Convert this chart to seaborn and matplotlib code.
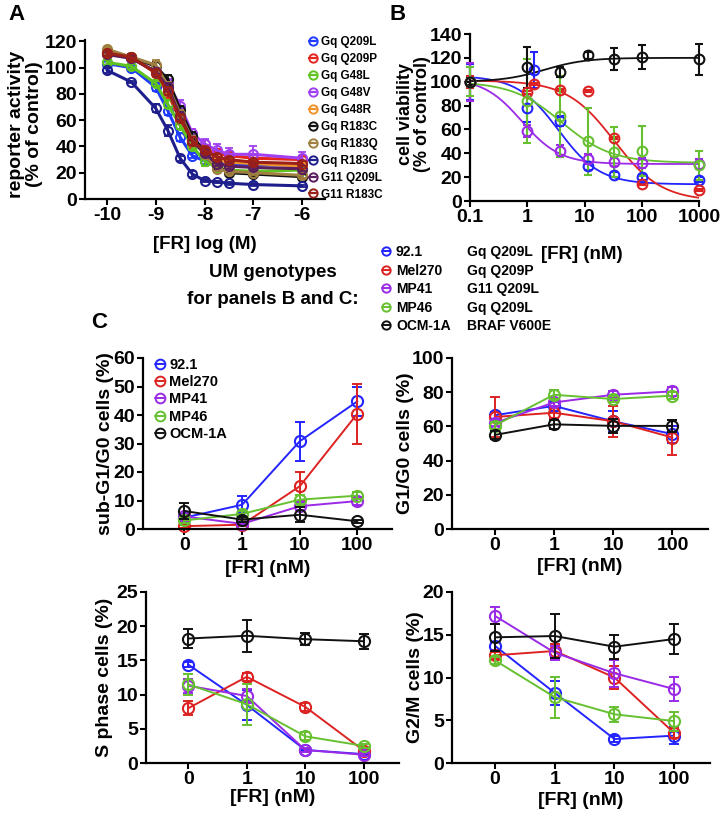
import numpy as np
import pandas as pd
import seaborn as sns
import matplotlib.pyplot as plt
from matplotlib.lines import Line2D
from matplotlib.ticker import NullLocator

# ---------------- panel A: reporter activity ----------------
a_logconc = [-10, -9.5, -9, -8.75, -8.5, -8.25, -8, -7.75, -7.5, -7, -6]
a_mutants = ["Gq Q209L", "Gq Q209P", "Gq G48L", "Gq G48V", "Gq G48R",
             "Gq R183C", "Gq R183Q", "Gq R183G", "G11 Q209L", "G11 R183C"]
a_colors = ["#1f3cff", "#e5241e", "#5ec21f", "#a040f0", "#f0922a",
            "#111111", "#a08040", "#1e1e8c", "#5a1d5e", "#9a2018"]
a_values = [
    [103, 100, 85, 67, 47, 33, 29, 27, 26, 26, 26],
    [110, 108, 96, 80, 60, 42, 38, 35, 33, 31, 30],
    [104, 101, 88, 72, 56, 40, 29, 24, 22, 21, 22],
    [112, 107, 97, 88, 71, 50, 42, 37, 34, 34, 31],
    [113, 108, 96, 82, 63, 45, 36, 30, 28, 27, 25],
    [111, 108, 101, 91, 68, 48, 36, 25, 20, 19, 17],
    [114, 108, 102, 86, 65, 45, 34, 23, 21, 20, 18],
    [98, 89, 69, 52, 31, 19, 14, 13, 12, 11, 10],
    [110, 107, 97, 85, 63, 44, 35, 27, 25, 24, 23],
    [111, 108, 96, 82, 62, 44, 37, 32, 30, 28, 27],
]
a_sd = [
    [2, 2, 3, 3, 3, 2, 2, 2, 2, 2, 2],
    [2, 2, 3, 3, 3, 3, 3, 3, 3, 3, 3],
    [2, 2, 2, 3, 3, 3, 4, 3, 2, 2, 2],
    [2, 2, 3, 3, 4, 3, 4, 5, 5, 6, 5],
    [2, 2, 2, 2, 3, 3, 3, 2, 2, 2, 2],
    [2, 2, 3, 3, 3, 3, 2, 2, 2, 2, 2],
    [2, 2, 4, 3, 3, 3, 2, 2, 2, 2, 2],
    [2, 1, 3, 4, 2, 2, 1, 1, 1, 1, 1],
    [2, 2, 2, 3, 3, 3, 2, 2, 2, 2, 2],
    [2, 2, 2, 3, 3, 3, 2, 2, 2, 2, 2],
]

# ---------------- panel B: cell viability ----------------
b_conc = [0.1, 1, 1.3, 3.7, 11.5, 33, 100, 1000]
b_lines = ["92.1", "Mel270", "MP41", "MP46", "OCM-1A"]
b_genotypes = ["Gq Q209L", "Gq Q209P", "G11 Q209L", "Gq Q209L", "BRAF V600E"]
um_colors = ["#2424ff", "#dd2222", "#9a2ae6", "#66c030", "#111111"]
b_values = [
    [100, 78, 110, 67, 29, 22, 20, 18],
    [100, 91, 98, 93, 92, 53, 14, 9],
    [100, 59, np.nan, 42, 35, 33, 32, 31],
    [100, 84, np.nan, 71, 50, 41, 42, 30],
    [100, 112, np.nan, 108, 122, 119, 121, 119],
]
b_sd = [
    [15, 12, 15, 4, 3, 2, 2, 2],
    [5, 1, 1, 1, 1, 1, 1, 1],
    [16, 5, np.nan, 5, 4, 4, 4, 4],
    [12, 35, np.nan, 34, 28, 21, 21, 12],
    [3, 17, np.nan, 4, 3, 9, 10, 13],
]
# four-parameter logistic fits shown as curves
b_fit_top = [105, 101, 103, 100, 100]
b_fit_bottom = [14, 0, 31, 32, 120]
b_fit_ic50 = [3.5, 33, 0.8, 4, 2]
b_fit_hill = [1.2, 1.05, 1.3, 1.0, 1.2]

# ---------------- panel C: cell cycle ----------------
c_doses = ["0", "1", "10", "100"]
subg1_mean = [[4.0, 8.5, 30.8, 44.8], [1.0, 1.5, 15.0, 40.5], [4.4, 1.8, 8.0, 9.8],
              [3.0, 5.3, 10.3, 11.7], [6.3, 3.3, 5.0, 2.7]]
subg1_sd = [[1.0, 3.0, 6.8, 5.0], [0.5, 0.5, 5.0, 10.5], [1.0, 0.5, 1.5, 1.5],
            [0.8, 1.0, 1.5, 1.2], [2.7, 1.0, 2.7, 0.5]]
g1_mean = [[66.5, 72.0, 63.0, 55.5], [65.5, 68.0, 63.0, 53.5], [62.0, 74.0, 78.5, 80.5],
           [60.5, 78.5, 76.0, 78.0], [55.0, 61.2, 60.3, 60.3]]
g1_sd = [[2, 3, 6, 5], [11.5, 3, 9, 10.5], [2, 2, 2, 2.5],
         [2, 2.5, 2, 2], [2.5, 2.5, 4, 3.5]]
s_mean = [[14.4, 8.5, 1.9, 1.3], [8.0, 12.6, 8.2, 1.8], [11.3, 9.8, 1.9, 1.2],
          [11.5, 8.6, 3.9, 2.5], [18.2, 18.6, 18.1, 17.8]]
s_sd = [[0.3, 2.2, 0.2, 0.2], [1.0, 0.6, 0.6, 0.3], [1.0, 1.0, 0.3, 0.2],
        [1.5, 3.0, 0.6, 0.3], [1.4, 2.3, 0.9, 1.1]]
g2m_mean = [[13.7, 8.2, 2.8, 3.2], [12.6, 13.1, 10.0, 3.5], [17.2, 12.9, 10.5, 8.65],
            [12.0, 7.7, 5.7, 4.9], [14.7, 14.85, 13.6, 14.5]]
g2m_sd = [[0.5, 1.4, 0.4, 1.0], [0.4, 0.8, 1.4, 0.6], [1.0, 0.8, 1.6, 1.4],
          [0.4, 2.4, 0.9, 1.1], [1.6, 2.6, 1.4, 1.7]]

sns.set_theme(style="ticks")
plt.rcParams['font.family'] = ['Liberation Sans', 'DejaVu Sans']
plt.rcParams['font.weight'] = 'bold'
plt.rcParams['axes.labelweight'] = 'bold'
plt.rcParams['axes.linewidth'] = 1.6
plt.rcParams['axes.edgecolor'] = 'black'
plt.rcParams['xtick.color'] = 'black'
plt.rcParams['ytick.color'] = 'black'
plt.rcParams['text.color'] = 'black'
plt.rcParams['axes.labelcolor'] = 'black'
plt.rcParams['axes.unicode_minus'] = False

W, H = 722, 816


def rect(l, t, r, b):
    return [l / W, 1 - b / H, (r - l) / W, (b - t) / H]


def style(ax, size=14):
    sns.despine(ax=ax)
    ax.tick_params(width=1.5, length=4, labelsize=size, pad=1.5)


fig = plt.figure(figsize=(W / 100, H / 100), dpi=100)

# ---- A ----
axA = fig.add_axes(rect(85, 40, 325, 199))
for name, col, ys, sd in zip(a_mutants, a_colors, a_values, a_sd):
    axA.errorbar(a_logconc, ys, yerr=sd, fmt='none', ecolor=col,
                 elinewidth=1.3, capsize=3, capthick=1.3)
    sns.lineplot(x=a_logconc, y=ys, ax=axA, color=col, lw=2.2, marker='o',
                 ms=6.5, mfc='none', mec=col, mew=1.5)
axA.set_xlim(-10.45, -5.53)
axA.set_ylim(0, 121)
axA.set_xticks([-10, -9, -8, -7, -6])
axA.set_yticks(range(0, 121, 20))
style(axA)
axA.set_xlabel("[FR] log (M)", fontsize=13.5)
axA.set_ylabel("reporter activity\n(% of control)", fontsize=14, linespacing=1.05)
axA.xaxis.set_label_coords(0.5, -0.23)
axA.yaxis.set_label_coords(-0.175, 0.47)
a_handles = [Line2D([0], [0], color=c, lw=1.6, marker='o', ms=6, mfc='none',
                    mec=c, mew=1.4) for c in a_colors]
fig.legend(a_handles, a_mutants, loc='upper left', bbox_to_anchor=(309 / W, 1 - 36 / H),
           frameon=False, fontsize=8.5, handlelength=0.6, handletextpad=0.4,
           labelspacing=0.42, borderpad=0, borderaxespad=0)

# ---- B ----
axB = fig.add_axes(rect(470, 34, 699, 201))
xx = np.geomspace(0.1, 1000, 300)
for i, col in enumerate(um_colors):
    top, bot = b_fit_top[i], b_fit_bottom[i]
    yy = bot + (top - bot) / (1 + (xx / b_fit_ic50[i]) ** b_fit_hill[i])
    sns.lineplot(x=xx, y=yy, ax=axB, color=col, lw=1.3)
    axB.errorbar(b_conc, b_values[i], yerr=b_sd[i], fmt='o', ms=7, mfc='none',
                 mec=col, mew=1.5, ecolor=col, elinewidth=1.5, capsize=3,
                 capthick=1.5, clip_on=False, zorder=3)
axB.set_xscale('log')
axB.set_xlim(0.1, 1000)
axB.set_ylim(0, 140)
axB.set_xticks([0.1, 1, 10, 100, 1000])
axB.set_xticklabels(["0.1", "1", "10", "100", "1000"])
axB.xaxis.set_minor_locator(NullLocator())
axB.set_yticks(range(0, 141, 20))
style(axB)
axB.set_xlabel("[FR] (nM)", fontsize=13.5)
axB.set_ylabel("cell viability\n(% of control)", fontsize=13, linespacing=1.0)
axB.xaxis.set_label_coords(0.49, -0.27)
axB.yaxis.set_label_coords(-0.172, 0.52)

# ---- genotype legend ----
fig.text(273 / W, 1 - 273 / H, "UM genotypes", ha='center', va='center', fontsize=13.5)
fig.text(273 / W, 1 - 300 / H, "for panels B and C:", ha='center', va='center', fontsize=13.5)
um_handles = [Line2D([0], [0], color=c, lw=1.4, marker='o', ms=6, mfc='none',
                     mec=c, mew=1.4) for c in um_colors]
blank = [Line2D([0], [0], color='none', lw=0) for _ in um_colors]
fig.legend(um_handles + blank, b_lines + b_genotypes, ncol=2, loc='upper left',
           bbox_to_anchor=(382 / W, 1 - 245 / H), frameon=False, fontsize=10,
           handlelength=0.6, handletextpad=0.4, labelspacing=0.33,
           columnspacing=0.2, borderpad=0, borderaxespad=0)


# ---- C ----
def cycle_panel(box, means, sds, ymax, ystep, ylabel, ycoord, xcoord):
    ax = fig.add_axes(rect(*box))
    pos = list(range(len(c_doses)))
    for i, col in enumerate(um_colors):
        ax.errorbar(pos, means[i], yerr=sds[i], fmt='none', ecolor=col,
                    elinewidth=1.4, capsize=3.5, capthick=1.4, clip_on=False)
        sns.lineplot(x=pos, y=means[i], ax=ax, color=col, lw=1.4, marker='o',
                     ms=8, mfc='none', mec=col, mew=1.5, clip_on=False)
    ax.set_xlim(-0.72, 3.6)
    ax.set_ylim(0, ymax)
    ax.set_yticks(np.arange(0, ymax + 0.1, ystep))
    ax.set_xticks(pos)
    ax.set_xticklabels(c_doses)
    style(ax)
    ax.set_xlabel("[FR] (nM)", fontsize=14)
    ax.set_ylabel(ylabel, fontsize=14)
    ax.xaxis.set_label_coords(0.5, xcoord)
    ax.yaxis.set_label_coords(ycoord, 0.5)
    return ax


axC1 = cycle_panel((143, 358, 392, 529), subg1_mean, subg1_sd, 60, 10,
                   "sub-G1/G0 cells (%)", -0.118, -0.18)
axC2 = cycle_panel((452, 358, 708, 529), g1_mean, g1_sd, 100, 20,
                   "G1/G0 cells (%)", -0.15, -0.17)
axC3 = cycle_panel((146, 592, 399, 763), s_mean, s_sd, 25, 5,
                   "S phase cells (%)", -0.13, -0.15)
axC4 = cycle_panel((452, 592, 710, 763), g2m_mean, g2m_sd, 20, 5,
                   "G2/M cells (%)", -0.11, -0.17)
c_handles = [Line2D([0], [0], color=c, lw=1.4, marker='o', ms=7, mfc='none',
                    mec=c, mew=1.4) for c in um_colors]
axC1.legend(c_handles, b_lines, loc='upper left', bbox_to_anchor=(0.05, 1.0),
            frameon=False, fontsize=10.5, handlelength=0.6, handletextpad=0.35,
            labelspacing=0.22, borderpad=0, borderaxespad=0)

# ---- panel letters ----
fig.text(8 / W, 1 - 4 / H, "A", fontsize=16, ha='left', va='top')
fig.text(390 / W, 1 - 4 / H, "B", fontsize=16, ha='left', va='top')
fig.text(91 / W, 1 - 312 / H, "C", fontsize=16, ha='left', va='top')

fig.savefig("out.png", dpi=100)
